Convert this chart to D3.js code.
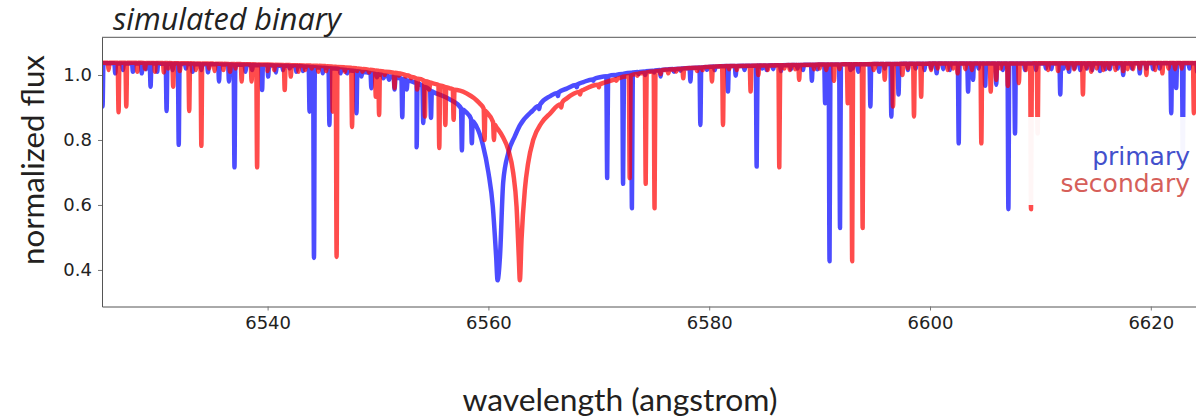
<!DOCTYPE html>
<html>
<head>
<meta charset="utf-8">
<script src="https://cdn.jsdelivr.net/npm/d3@7"></script>
<style>
	body { margin: 0; background: #fff; }
	svg { display: block; }
</style>
</head>
<body>
<svg width="1196" height="418"></svg>
<script>

/*
	data
	continuum = [wavelength, flux] along the smooth part incl. H-alpha
	lines = [centre wavelength, flux at the bottom of the line]
*/
var primaryContinuum = [
	[6525, 1.036], [6530, 1.035], [6535, 1.033], [6540, 1.03], [6543, 1.027],
	[6546, 1.02], [6548, 1.012], [6550, 1.002], [6552, 0.99], [6553.5, 0.975],
	[6555, 0.948], [6556.5, 0.925], [6558, 0.885], [6558.9, 0.843], [6559.5, 0.785],
	[6560.0, 0.70], [6560.4, 0.595], [6560.7, 0.442], [6560.83, 0.368], [6561.05, 0.442],
	[6561.34, 0.67], [6561.8, 0.76], [6562.4, 0.812], [6562.85, 0.845], [6564.0, 0.89],
	[6565.6, 0.935], [6567.1, 0.958], [6568.6, 0.978], [6570.1, 0.993], [6573.1, 1.008],
	[6576.2, 1.017], [6581, 1.027], [6590, 1.032], [6600, 1.035], [6625, 1.036]
];

var secondaryContinuum = [
	[6525, 1.038], [6530, 1.037], [6535, 1.035], [6540, 1.032], [6545, 1.028],
	[6548, 1.021], [6550, 1.013], [6552, 1.005], [6555, 0.974], [6556.5, 0.959],
	[6558, 0.944], [6559.2, 0.913], [6559.8, 0.887], [6560.7, 0.841], [6561.3, 0.81],
	[6561.8, 0.77], [6562.25, 0.698], [6562.55, 0.595], [6562.75, 0.442], [6562.85, 0.368],
	[6563.0, 0.493], [6563.3, 0.647], [6563.6, 0.729], [6564.06, 0.80], [6564.8, 0.852],
	[6565.6, 0.882], [6567.1, 0.928], [6568.6, 0.954], [6570.1, 0.972], [6571.6, 0.988],
	[6573.7, 1.005], [6576.1, 1.016], [6581, 1.027], [6590, 1.032], [6600, 1.035], [6625, 1.037]
];

var primaryLines = [
	[6525.05, 0.903], [6526.2, 1.005], [6526.9, 1.015], [6527.8, 1.01], [6528.6, 1.005],
	[6529.0, 1.018], [6529.4, 0.964], [6530.0, 1.01], [6530.85, 0.889], [6531.4, 1.015],
	[6531.95, 0.785], [6532.6, 1.02], [6533.2, 1.01], [6534.0, 1.015], [6534.6, 1.008],
	[6535.6, 0.98], [6536.5, 0.98], [6537.0, 0.716], [6538.0, 1.01], [6538.6, 1.015],
	[6539.5, 0.954], [6540.05, 0.995], [6540.75, 1.008], [6541.4, 1.015], [6542.0, 1.02],
	[6542.6, 1.01], [6543.2, 1.012], [6543.8, 0.887], [6544.2, 0.437], [6545.0, 1.005],
	[6545.6, 0.846], [6546.6, 1.005], [6547.2, 1.005], [6548.05, 0.882], [6548.5, 0.995],
	[6549.4, 0.959], [6549.9, 0.993], [6550.5, 0.99], [6551.0, 0.985], [6551.5, 0.955],
	[6552.2, 0.87], [6552.6, 0.955], [6553.5, 0.778], [6554.1, 0.852], [6554.8, 0.868],
	[6557.6, 0.768], [6558.5, 0.79],
	[6564.6, 0.895], [6566.3, 0.935], [6568.0, 0.962], [6569.5, 0.982], [6570.76, 0.683],
	[6571.5, 0.998], [6572.2, 0.665], [6573.0, 0.59], [6573.6, 1.003], [6574.2, 1.0],
	[6575.0, 1.008], [6575.6, 0.995], [6576.8, 1.01], [6577.4, 1.013], [6578.3, 0.98],
	[6579.2, 0.846], [6579.8, 1.016], [6580.5, 1.015], [6581.7, 0.949], [6582.4, 0.998],
	[6583.2, 1.015], [6584.3, 0.718], [6584.8, 1.02], [6585.2, 1.015], [6585.8, 1.018],
	[6586.5, 1.012], [6587.4, 1.018], [6588.0, 1.02], [6588.5, 1.015], [6589.3, 0.982],
	[6589.8, 1.018], [6590.5, 0.913], [6590.9, 0.427], [6591.85, 0.529], [6592.8, 1.015],
	[6593.0, 1.02], [6593.5, 1.01], [6594.6, 0.903], [6595.4, 1.01], [6595.9, 1.02],
	[6596.5, 0.872], [6597.15, 0.94], [6598.0, 1.015], [6598.7, 1.02], [6599.5, 1.015],
	[6600.1, 1.02], [6600.6, 1.005], [6601.2, 1.018], [6601.8, 1.015], [6602.6, 0.79],
	[6603.45, 0.949], [6603.9, 0.985], [6604.4, 1.02], [6605.0, 0.967], [6606.0, 0.97],
	[6606.6, 1.015], [6607.1, 0.587], [6607.7, 0.82], [6608.6, 1.015], [6609.6, 1.015],
	[6610.5, 1.02], [6611.0, 1.018], [6611.8, 0.94], [6612.1, 1.02], [6612.6, 1.01],
	[6613.1, 1.02], [6613.6, 1.015], [6614.2, 1.02], [6614.7, 1.015], [6615.4, 1.012],
	[6615.9, 1.018], [6616.3, 1.018], [6617.0, 1.02], [6617.5, 1.0], [6618.3, 1.02],
	[6619.0, 1.005], [6619.6, 1.02], [6620.2, 1.018], [6620.8, 1.02], [6621.85, 0.882],
	[6622.3, 0.96], [6622.9, 0.75], [6623.5, 1.02], [6624.2, 1.01]
];

var secondaryLines = [
	[6525.6, 1.015], [6526.5, 0.885], [6527.2, 0.903], [6528.2, 1.01], [6528.9, 1.018],
	[6529.8, 1.01], [6530.6, 1.008], [6531.0, 1.02], [6531.45, 0.964], [6532.05, 1.012],
	[6532.9, 0.889], [6533.5, 1.015], [6534.0, 0.782], [6534.7, 1.02], [6535.2, 1.012],
	[6536.0, 1.015], [6536.6, 1.01], [6537.1, 1.02], [6537.65, 0.98], [6538.55, 0.98],
	[6539.05, 0.716], [6540.0, 1.012], [6540.6, 1.015], [6541.55, 0.954], [6542.1, 0.995],
	[6542.8, 1.01], [6543.4, 1.015], [6544.0, 1.02], [6544.6, 1.01], [6545.3, 1.012],
	[6545.9, 0.887], [6546.25, 0.44], [6547.0, 1.01], [6547.65, 0.84], [6548.1, 1.012],
	[6548.6, 1.01], [6549.2, 1.008], [6549.8, 0.933], [6550.1, 0.877], [6550.6, 1.0],
	[6551.5, 0.96], [6551.9, 0.998], [6552.5, 0.995], [6553.0, 0.99], [6553.55, 0.955],
	[6554.25, 0.872], [6554.65, 0.955], [6555.55, 0.775], [6556.1, 0.846], [6556.85, 0.862],
	[6559.65, 0.80], [6560.5, 0.80],
	[6566.6, 0.9], [6568.3, 0.94], [6570.0, 0.962], [6571.6, 0.982], [6572.8, 0.683],
	[6573.5, 0.998], [6574.25, 0.665], [6575.05, 0.59], [6575.6, 1.003], [6576.3, 1.005],
	[6577.0, 1.01], [6577.65, 0.99], [6578.9, 1.012], [6579.4, 1.015], [6580.25, 0.98],
	[6581.25, 0.846], [6581.8, 1.018], [6582.5, 1.015], [6583.75, 0.949], [6584.45, 1.0],
	[6585.3, 1.015], [6586.35, 0.716], [6586.8, 1.02], [6587.3, 1.015], [6587.8, 1.018],
	[6588.15, 0.985], [6589.5, 1.018], [6590.0, 1.02], [6590.6, 1.015], [6591.3, 0.982],
	[6591.8, 1.018], [6592.55, 0.913], [6592.95, 0.427], [6593.9, 0.529], [6594.9, 1.015],
	[6595.0, 1.02], [6595.9, 0.985], [6596.65, 0.903], [6597.5, 1.0], [6598.0, 1.02],
	[6598.55, 0.872], [6599.2, 0.933], [6600.1, 1.015], [6600.7, 1.02], [6601.6, 1.015],
	[6602.1, 1.02], [6602.5, 1.005], [6603.2, 1.018], [6603.8, 1.015], [6604.65, 0.79],
	[6605.5, 0.949], [6606.0, 0.985], [6606.4, 1.02], [6607.05, 0.967], [6608.05, 0.975],
	[6608.7, 1.015], [6609.15, 0.587], [6609.75, 0.82], [6610.7, 1.015], [6611.6, 1.012],
	[6612.5, 1.02], [6613.05, 1.018], [6613.85, 0.94], [6614.1, 1.02], [6614.6, 1.01],
	[6615.1, 1.02], [6615.7, 1.015], [6616.2, 1.02], [6616.8, 1.015], [6617.5, 1.012],
	[6617.9, 1.018], [6618.4, 1.018], [6619.0, 1.02], [6619.6, 1.0], [6620.4, 1.015],
	[6621.05, 1.005], [6621.6, 1.02], [6622.2, 1.018], [6622.8, 1.02], [6623.9, 0.882]
];

var xTicks = [6540, 6560, 6580, 6600, 6620],
	yTicks = [0.4, 0.6, 0.8, 1.0],
	seriesNames = ['primary', 'secondary'];


var svg, x, y, plot, line, legend, title;

svg = d3.select('body svg');

x = d3.scaleLinear().domain([6525, 6625]).range([102, 1206]);
y = d3.scaleLinear().domain([0.2875, 1.116]).range([306.5, 37.3]);


/*
	turn continuum + line list into one path
*/
function spectrum(cont, lines) {
	var base = d3.scaleLinear()
		.domain(cont.map(function (d) { return d[0]; }))
		.range(cont.map(function (d) { return d[1]; }));
	var hw = 0.08, pts = cont.slice();

	lines.forEach(function (l) {
		pts.push([l[0] - hw, base(l[0] - hw)]);
		pts.push([l[0], l[1]]);
		pts.push([l[0] + hw, base(l[0] + hw)]);
	});
	pts.sort(function (a, b) { return a[0] - b[0]; });
	return pts;
}

line = d3.line()
	.curve(d3.curveMonotoneX)
	.x(function (d) { return x(d[0]); })
	.y(function (d) { return y(d[1]); });


svg.append('clipPath').attr('id', 'plotclip')
	.append('rect')
	.attr('x', 102).attr('y', 37.3)
	.attr('width', 1104).attr('height', 269.2);

plot = svg.append('g').attr('clip-path', 'url(#plotclip)');

plot.append('path')
	.attr('d', line(spectrum(primaryContinuum, primaryLines)))
	.style('fill', 'none')
	.style('stroke', '#0000ff')
	.style('stroke-opacity', 0.7)
	.style('stroke-width', 4.5)
	.style('stroke-linejoin', 'round')
	.style('stroke-linecap', 'round');

plot.append('path')
	.attr('d', line(spectrum(secondaryContinuum, secondaryLines)))
	.style('fill', 'none')
	.style('stroke', '#ff0000')
	.style('stroke-opacity', 0.7)
	.style('stroke-width', 4.5)
	.style('stroke-linejoin', 'round')
	.style('stroke-linecap', 'round');


/*
	axes
*/
var xAxis = svg.append('g')
	.attr('transform', 'translate(0,306.5)')
	.call(d3.axisBottom(x).tickValues(xTicks).tickSize(4).tickSizeOuter(0).tickPadding(6).tickFormat(d3.format('d')));

var yAxis = svg.append('g')
	.attr('transform', 'translate(102,0)')
	.call(d3.axisLeft(y).tickValues(yTicks).tickSize(4).tickSizeOuter(0).tickPadding(6).tickFormat(d3.format('.1f')));

[xAxis, yAxis].forEach(function (a) {
	a.select('.domain').style('stroke', '#555');
	a.selectAll('.tick line').style('stroke', '#777');
	a.selectAll('.tick text')
		.style('font-family', 'DejaVu Sans')
		.style('font-size', '18px')
		.style('fill', '#222');
});

// top spine
svg.append('line')
	.attr('x1', 102).attr('x2', 1196)
	.attr('y1', 37.3).attr('y2', 37.3)
	.style('stroke', '#555');


/*
	legend
*/
legend = svg.append('g');

legend.append('rect')
	.attr('x', 1027).attr('y', 117)
	.attr('width', 180).attr('height', 88)
	.style('fill', '#fff')
	.style('fill-opacity', 0.95);

legend.selectAll('text').data(seriesNames).enter().append('text')
	.attr('x', 1190)
	.attr('y', function (d, i) { return 165 + i * 27; })
	.attr('text-anchor', 'end')
	.style('font-family', 'DejaVu Sans')
	.style('font-size', '25px')
	.style('fill', function (d, i) { return i ? '#d65f5a' : '#4350cc'; })
	.text(function (d) { return d; });


/*
	labels
*/
function fitText(sel, w) {
	var fs = parseFloat(sel.style('font-size'));
	var len = sel.node().getComputedTextLength();
	sel.style('font-size', (fs * w / len) + 'px');
}

title = svg.append('text')
	.attr('x', 113).attr('y', 30)
	.style('font-family', 'Open Sans')
	.style('font-style', 'italic')
	.style('font-size', '24px')
	.style('fill', '#222')
	.text('simulated binary');
fitText(title, 228);

var xl = svg.append('text')
	.attr('x', 620).attr('y', 411)
	.attr('text-anchor', 'middle')
	.style('font-family', 'Lato')
	.style('font-size', '28px')
	.style('fill', '#231f20')
	.text('wavelength (angstrom)');
fitText(xl, 315);

var yl = svg.append('text')
	.attr('transform', 'translate(44,160) rotate(-90)')
	.attr('text-anchor', 'middle')
	.style('font-family', 'Lato')
	.style('font-size', '28px')
	.style('fill', '#231f20')
	.text('normalized flux');
fitText(yl, 210);

</script>
</body>
</html>
